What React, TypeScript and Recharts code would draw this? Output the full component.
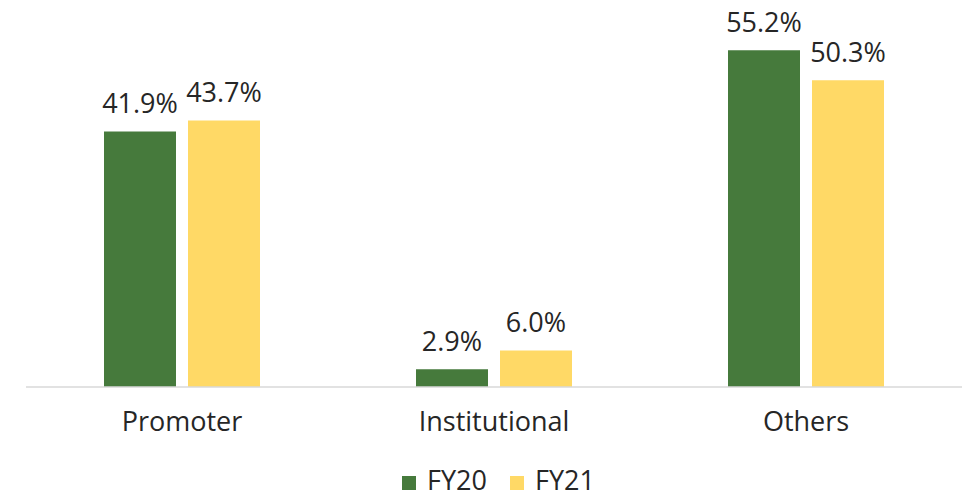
import { Bar, BarChart, LabelList, Legend, XAxis, YAxis } from "recharts";

const categories = ["Promoter", "Institutional", "Others"];
const fy20 = [41.9, 2.9, 55.2];
const fy21 = [43.7, 6.0, 50.3];

const data = categories.map((name, i) => ({ name, FY20: fy20[i], FY21: fy21[i] }));

const FONT = "'Open Sans', sans-serif";
const TEXT = "#262626";

const fmt = (v: any) => `${Number(v).toFixed(1)}%`;

export default function App() {
  return (
    <div style={{ position: "absolute", left: 0, top: 0, fontFamily: FONT }}>
      <BarChart
        width={974}
        height={498}
        data={data}
        margin={{ top: 21, right: 12, left: 26, bottom: 51 }}
        barCategoryGap="25%"
        barGap={12}
      >
        <XAxis
          dataKey="name"
          axisLine={{ stroke: "#d9d9d9", strokeWidth: 1.5 }}
          tickLine={false}
          tickMargin={19}
          height={60}
          tick={{ fill: TEXT, fontSize: 27, fontFamily: FONT }}
        />
        <YAxis hide domain={[0, 60]} />
        <Legend
          verticalAlign="middle"
          align="center"
          iconType="square"
          iconSize={14}
          wrapperStyle={{
            top: 466,
            left: 0,
            width: 974,
            paddingLeft: 23,
            lineHeight: "28px",
            fontFamily: FONT,
            fontSize: 27,
          }}
          formatter={(v) => (
            <span style={{ color: TEXT, marginLeft: 7, marginRight: 13 }}>{v}</span>
          )}
        />
        <Bar dataKey="FY20" fill="#467a3c" isAnimationActive={false}>
          <LabelList
            dataKey="FY20"
            position="top"
            offset={18}
            formatter={fmt}
            style={{ fill: TEXT, fontSize: 27, fontFamily: FONT }}
          />
        </Bar>
        <Bar dataKey="FY21" fill="#ffd966" isAnimationActive={false}>
          <LabelList
            dataKey="FY21"
            position="top"
            offset={18}
            formatter={fmt}
            style={{ fill: TEXT, fontSize: 27, fontFamily: FONT }}
          />
        </Bar>
      </BarChart>
    </div>
  );
}
